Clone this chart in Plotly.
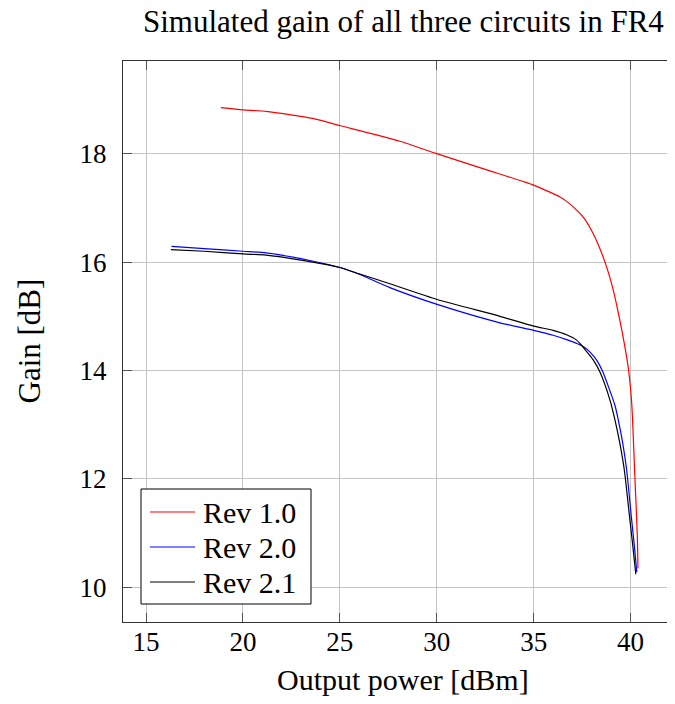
import plotly.graph_objects as go

# ---- data ----
rev10_x = [18.86, 20.0, 21.2, 23.6, 25.0, 28.1, 30.0, 32.5, 35.0, 35.84, 36.36, 36.7,
           37.22, 37.56, 38.08, 38.68, 39.11, 39.45, 39.71, 39.9, 40.06, 40.23, 40.35, 40.38]
rev10_y = [18.85, 18.81, 18.78, 18.65, 18.52, 18.23, 18.0, 17.71, 17.42, 17.29, 17.2, 17.12,
           16.96, 16.83, 16.52, 16.0, 15.48, 14.92, 14.43, 14.0, 13.39, 11.97, 10.93, 10.35]

rev20_x = [16.31, 18.0, 20.0, 21.2, 23.45, 25.0, 26.03, 27.58, 30.02, 33.26, 35.0, 36.0, 36.7,
           37.22, 37.48, 37.91, 38.25, 38.55, 39.2, 39.37, 39.6, 39.8, 40.06, 40.2, 40.32]
rev20_y = [16.29, 16.25, 16.2, 16.17, 16.03, 15.9, 15.77, 15.53, 15.22, 14.88, 14.74, 14.65, 14.57,
           14.50, 14.46, 14.34, 14.19, 13.99, 13.35, 13.08, 12.65, 12.16, 11.23, 10.75, 10.28]

rev21_x = [16.28, 18.0, 20.0, 21.2, 23.45, 25.0, 26.03, 27.58, 30.02, 33.26, 35.0, 36.0, 36.7,
           37.22, 37.48, 37.82, 38.08, 38.42, 38.94, 39.2, 39.45, 39.68, 39.97, 40.12, 40.27]
rev21_y = [16.23, 16.2, 16.15, 16.13, 16.01, 15.9, 15.78, 15.6, 15.31, 15.0, 14.82, 14.74, 14.66,
           14.56, 14.46, 14.31, 14.19, 13.97, 13.45, 13.08, 12.65, 12.16, 11.23, 10.75, 10.24]

x_ticks = [15, 20, 25, 30, 35, 40]
y_ticks = [10, 12, 14, 16, 18]

series = [("Rev 1.0", rev10_x, rev10_y, "#ff0000"),
          ("Rev 2.0", rev20_x, rev20_y, "#0000ff"),
          ("Rev 2.1", rev21_x, rev21_y, "#000000")]

SERIF = "Liberation Serif, DejaVu Serif, serif"

# figure geometry (page body adds an 8px margin around the figure)
FIG_W, FIG_H = 659, 688
M_L, M_R, M_T, M_B = 115, 0, 53, 74
PW = FIG_W - M_L - M_R
PH = FIG_H - M_T - M_B


def px_x(px):  # figure pixel -> paper x
    return (px - M_L) / PW


def px_y(py):  # figure pixel (from top) -> paper y
    return (FIG_H - M_B - py) / PH


fig = go.Figure()
for name, xs, ys, col in series:
    fig.add_trace(go.Scatter(x=xs, y=ys, mode="lines", name=name, showlegend=False,
                             line=dict(color=col, width=1.2, shape="spline", smoothing=0.6)))

axis_common = dict(showgrid=True, gridcolor="#c4c4c4", gridwidth=1,
                   showline=True, linecolor="#333333", linewidth=1.2,
                   ticks="inside", ticklen=9, tickcolor="#555555", tickwidth=1,
                   zeroline=False,
                   tickfont=dict(family=SERIF, size=27, color="#000"))

# ---- legend drawn as a boxed key (lines + labels) ----
shapes = []
annotations = []
leg_left, leg_right, leg_top, leg_bot = 133, 303, 481, 596
shapes.append(dict(type="rect", xref="paper", yref="paper",
                   x0=px_x(leg_left), x1=px_x(leg_right), y0=px_y(leg_bot), y1=px_y(leg_top),
                   line=dict(color="#000", width=1), fillcolor="white", layer="above"))
for i, (name, _, _, col) in enumerate(series):
    cy = 504 + 35 * i
    shapes.append(dict(type="line", xref="paper", yref="paper",
                       x0=px_x(142), x1=px_x(187), y0=px_y(cy), y1=px_y(cy),
                       line=dict(color=col, width=1.2), layer="above"))
    annotations.append(dict(text=name, xref="paper", yref="paper",
                            x=px_x(193), y=px_y(cy), xanchor="left", yanchor="middle",
                            showarrow=False, font=dict(family=SERIF, size=30, color="#000")))

annotations += [
    dict(text="Simulated gain of all three circuits in FR4", xref="paper", yref="paper",
         x=px_x(395), y=1, yshift=40, xanchor="center", yanchor="middle", showarrow=False,
         font=dict(family=SERIF, size=31, color="#000")),
    dict(text="Output power [dBm]", xref="paper", yref="paper",
         x=px_x(395), y=0, yshift=-57, xanchor="center", yanchor="middle", showarrow=False,
         font=dict(family=SERIF, size=30, color="#000")),
    dict(text="Gain [dB]", xref="paper", yref="paper", textangle=-90,
         x=0, xshift=-94, y=0.5, xanchor="center", yanchor="middle", showarrow=False,
         font=dict(family=SERIF, size=31, color="#000")),
]

fig.update_layout(
    width=FIG_W, height=FIG_H,
    margin=dict(l=M_L, r=M_R, t=M_T, b=M_B, autoexpand=False),
    paper_bgcolor="white", plot_bgcolor="white",
    showlegend=False,
    xaxis=dict(range=[13.81, 41.88], tickvals=x_ticks, mirror="ticks",
               ticklabelstandoff=-5, **axis_common),
    yaxis=dict(range=[9.36, 19.71], tickvals=y_ticks, mirror=False,
               ticklabelstandoff=10, **axis_common),
    shapes=shapes,
    annotations=annotations,
)

fig.write_html("out.html")
